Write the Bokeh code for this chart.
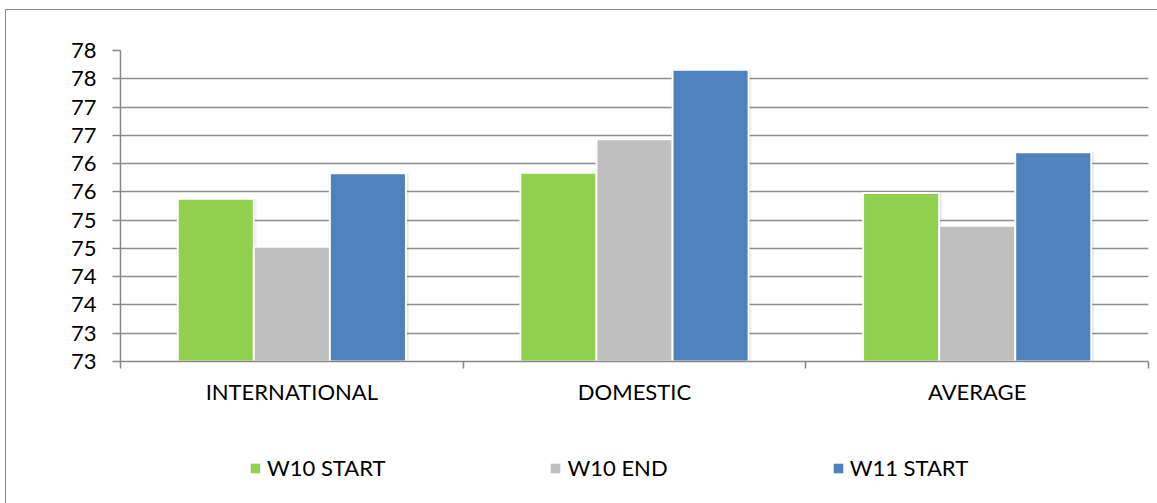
from bokeh.plotting import figure
from bokeh.layouts import column
from bokeh.models import (ColumnDataSource, FixedTicker, NumeralTickFormatter,
                          Legend, LegendItem, Range1d)
from bokeh.transform import dodge
from bokeh.embed import file_html
from bokeh.resources import INLINE

# Scores per segment, three survey waves
categories = ["INTERNATIONAL", "DOMESTIC", "AVERAGE"]
w10_start = [75.38, 75.84, 75.48]
w10_end = [74.53, 76.43, 74.90]
w11_start = [75.83, 77.66, 76.20]
series_names = ["W10 START", "W10 END", "W11 START"]
series_colors = ["#92D050", "#BFBFBF", "#4F81BD"]
y_ticks = [72.5 + 0.5 * i for i in range(12)]

FONT = "Lato"
AXIS_GREY = "#878787"
BASE = y_ticks[0]
CHART_W = 1151

centers = [i + 0.5 for i in range(len(categories))]
source = ColumnDataSource(dict(
    x=centers,
    cat=categories,
    w10_start=w10_start,
    w10_end=w10_end,
    w11_start=w11_start,
))

p = figure(
    width=CHART_W, height=410,
    x_range=Range1d(0, len(categories)),
    y_range=Range1d(y_ticks[0], y_ticks[-1]),
    output_backend="svg", toolbar_location=None,
    min_border_left=114, min_border_right=9,
    min_border_top=40, min_border_bottom=59,
)
p.outline_line_color = None
p.background_fill_color = "white"
p.border_fill_color = "white"

bar_w = 0.222
offsets = [-bar_w, 0.0, bar_w]
fields = ["w10_start", "w10_end", "w11_start"]

for field, off, color in zip(fields, offsets, series_colors):
    # soft drop shadow behind each bar
    p.vbar(x=dodge("x", off + 0.002, range=p.x_range), top=field, bottom=BASE,
           width=bar_w + 0.012, source=source,
           fill_color="#000000", fill_alpha=0.07, line_color=None)
    p.vbar(x=dodge("x", off + 0.001, range=p.x_range), top=field, bottom=BASE,
           width=bar_w + 0.005, source=source,
           fill_color="#000000", fill_alpha=0.08, line_color=None)
    p.vbar(x=dodge("x", off, range=p.x_range), top=field, bottom=BASE,
           width=bar_w, source=source,
           fill_color=color, line_color="white", line_width=2)

# y axis
p.yaxis.ticker = FixedTicker(ticks=y_ticks)
p.yaxis.formatter = NumeralTickFormatter(format="0")
p.yaxis.axis_line_color = AXIS_GREY
p.yaxis.axis_line_width = 1.5
p.yaxis.major_tick_line_color = AXIS_GREY
p.yaxis.major_tick_line_width = 1.5
p.yaxis.major_tick_out = 8
p.yaxis.major_tick_in = 0
p.yaxis.minor_tick_line_color = None
p.yaxis.major_label_text_font = FONT
p.yaxis.major_label_text_font_size = "22px"
p.yaxis.major_label_text_color = "#000000"
p.yaxis.major_label_standoff = 16

# x axis: labels at category centres, tick marks on category boundaries
p.xaxis.ticker = FixedTicker(ticks=centers,
                             minor_ticks=list(range(len(categories) + 1)))
p.xaxis.major_label_overrides = {c: name for c, name in zip(centers, categories)}
p.xaxis.axis_line_color = AXIS_GREY
p.xaxis.axis_line_width = 1.5
p.xaxis.major_tick_line_color = None
p.xaxis.major_tick_out = 0
p.xaxis.major_tick_in = 0
p.xaxis.minor_tick_line_color = AXIS_GREY
p.xaxis.minor_tick_line_width = 1.5
p.xaxis.minor_tick_out = 7
p.xaxis.minor_tick_in = 0
p.xaxis.major_label_text_font = FONT
p.xaxis.major_label_text_font_size = "22px"
p.xaxis.major_label_text_color = "#000000"
p.xaxis.major_label_standoff = 9

p.xgrid.grid_line_color = None
p.ygrid.ticker = FixedTicker(ticks=y_ticks)
p.ygrid.grid_line_color = "#8e8e8e"
p.ygrid.grid_line_width = 1.5

# legend strip under the chart; its frame lines up with the chart's frame,
# and its y window lies above all values so only the legend keys show
leg = figure(
    width=CHART_W, height=83,
    x_range=Range1d(0, len(categories)), y_range=Range1d(100, 101),
    output_backend="svg", toolbar_location=None,
    x_axis_location=None, y_axis_location=None,
    min_border=0,
)
leg.outline_line_color = None
leg.xgrid.grid_line_color = None
leg.ygrid.grid_line_color = None

items = []
for field, off, color, name in zip(fields, offsets, series_colors, series_names):
    r = leg.vbar(x=dodge("x", off, range=leg.x_range), top=field, bottom=BASE,
                 width=bar_w, source=source, fill_color=color, line_color=None)
    items.append(LegendItem(label=name, renderers=[r]))

legend = Legend(
    items=items, orientation="horizontal", location=(129, 22),
    padding=0, margin=0, spacing=164, label_standoff=6,
    glyph_width=12, glyph_height=12,
    label_text_font=FONT, label_text_font_size="22px",
    label_text_color="#000000",
    border_line_color=None, background_fill_alpha=0,
)
leg.add_layout(legend)

page = column(p, leg, spacing=0, margin=(10, 0, 0, 6),
              styles={"outline": "1.5px solid #8f8f8f"})

open("out.html", "w").write(file_html(page, INLINE))
